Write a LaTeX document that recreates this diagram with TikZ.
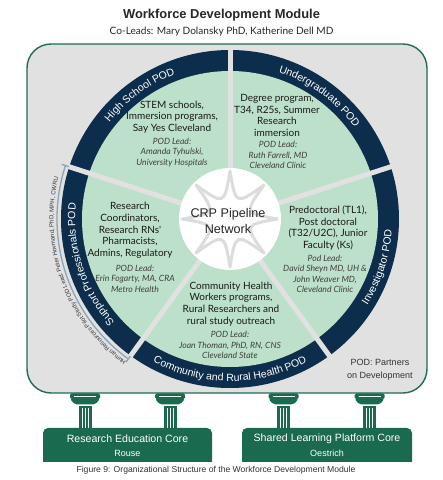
\documentclass[tikz,border=0pt]{standalone}
\usepackage{fontspec}
\setmainfont{Liberation Sans}
\newfontfamily\lato{Lato}
\usepackage{tikz}
\usetikzlibrary{decorations.text}

\definecolor{boxGray}{HTML}{E1E1E1}
\definecolor{boxLine}{HTML}{1E6E52}
\definecolor{ringNavy}{HTML}{0C2E4C}
\definecolor{podGreen}{HTML}{BCE0C9}
\definecolor{coreGreen}{HTML}{1A6A4F}
\definecolor{hrBlue}{HTML}{8AA5B9}
\definecolor{webGray}{HTML}{DCDCDC}
\definecolor{inkGray}{HTML}{333333}

\newcommand{\ringfont}{\fontsize{10.5}{12}\selectfont}
\newcommand{\hrfont}{\fontsize{6}{7}\selectfont}

\begin{document}
\begin{tikzpicture}[x=1pt, y=1pt,
		podText/.style={align=center, inner sep=0pt, text=black!90, font=\lato\fontsize{10}{11.7}\selectfont},
		leadText/.style={align=center, inner sep=0pt, text=black!75, font=\lato\itshape\fontsize{8.6}{10.5}\selectfont},
		divider/.style={draw=boxGray, line width=5pt},
		web/.style={draw=webGray, line width=3pt, line join=round},
		ringLabel/.style={decorate, decoration={text along path, text align=center, text color=white, text={|\ringfont|#1}}},
		coreTitle/.style={inner sep=0pt, text=white, font=\fontsize{10.6}{12}\selectfont},
		coreLead/.style={inner sep=0pt, text=white, font=\fontsize{9}{10}\selectfont},
		pillar/.pic={
			\fill[coreGreen, rounded corners=1.5pt] (-15,0) rectangle (15,-5.5);
			\draw[white, line width=0.7pt] (-11,-2.8) -- (11,-2.8);
			\fill[coreGreen, rounded corners=2pt] (-15,-5.5) -- (15,-5.5) -- (10,-11) -- (-10,-11) -- cycle;
			\fill[coreGreen] (-6.5,-13) rectangle (6.5,-36);
			\draw[white, line width=0.7pt] (-3,-15) -- (-3,-35) (0,-15) -- (0,-35) (3,-15) -- (3,-35);
		}]
		\useasboundingbox[fill=white] (0,0) rectangle (443,480);

		% title
		\node[inner sep=0pt, text=black!85, font=\bfseries\fontsize{12.9}{15}\selectfont] (title) at (221.5,465) {Workforce Development Module};
		\node[inner sep=0pt, text=black!85, font=\lato\fontsize{10.1}{12}\selectfont] (coLeads) at (221.5,448) {Co-Leads: Mary Dolansky PhD, Katherine Dell MD};

		% module frame
		\node[rectangle, draw=boxLine, fill=boxGray, line width=1.4pt, rounded corners=24pt, minimum width=400pt, minimum height=349pt, inner sep=0pt] (podFrame) at (227,261.5) {};

		\coordinate (hub) at (230,261);
		\begin{scope}[shift={(hub)}]
			% draw ring and pods
			\fill[ringNavy] (0,0) circle[radius=169];
			\fill[podGreen] (0,0) circle[radius=148];
			\draw[divider] (0,0) -- (90:173);
			\draw[divider] (0,0) -- (18:173);
			\draw[divider] (0,0) -- (-54:173);
			\draw[divider] (0,0) -- (-126:173);
			\draw[divider] (0,0) -- (162:173);

			% draw network hub
			\fill[white] (0,0) circle[radius=51];
			\draw[web] (0:48) .. controls (22.5:15) .. (45:48) .. controls (67.5:15) .. (90:48) .. controls (112.5:15) .. (135:48) .. controls (157.5:15) .. (180:48) .. controls (202.5:15) .. (225:48) .. controls (247.5:15) .. (270:48) .. controls (292.5:15) .. (315:48) .. controls (337.5:15) .. (360:48);

			% ring labels
			\path[ringLabel={High School POD}] (162:154.75) arc[start angle=162, end angle=90, radius=154.75];
			\path[ringLabel={Undergraduate POD}] (90:154.75) arc[start angle=90, end angle=18, radius=154.75];
			\path[ringLabel={Investigator POD}] (-54:162.25) arc[start angle=-54, end angle=18, radius=162.25];
			\path[ringLabel={Community and Rural Health POD}] (-126:162.25) arc[start angle=-126, end angle=-54, radius=162.25];
			\path[ringLabel={Support Professionals POD}] (234:154.75) arc[start angle=234, end angle=162, radius=154.75];

			% human resources bracket
			\draw[hrBlue, line width=1.3pt] (162:169.5) -- (162:177) (162:173) arc[start angle=162, end angle=234, radius=173] (234:169.5) -- (234:177);
			\path[decorate, decoration={text along path, text align=left, text color=inkGray, text={|\hrfont|Human Resources Pilot Study POD Lead: Peter Hovmand, PhD, MPH, CWRU}}] (234:176.5) arc[start angle=234, end angle=150, radius=176.5];
		\end{scope}

		\node[inner sep=0pt, align=center, text=black!85, font=\fontsize{12.6}{16}\selectfont] (hubLabel) at (228,259) {CRP Pipeline\\Network};

		% pod texts
		\node[podText] (hsText) at (172,363) {STEM schools,\\Immersion programs,\\Say Yes Cleveland};
		\node[leadText] (hsLead) at (172,327.5) {POD Lead:\\Amanda Tyhulski,\\University Hospitals};
		\node[podText] (ugText) at (277,364.5) {Degree program,\\T34, R25s, Summer\\Research\\immersion};
		\node[leadText] (ugLead) at (278,325) {POD Lead:\\Ruth Farrell, MD\\Cleveland Clinic};
		\node[podText] (spText) at (130,249.5) {Research\\Coordinators,\\Research RNs'\\Pharmacists,\\Admins, Regulatory};
		\node[leadText] (spLead) at (135,201.5) {POD Lead:\\Erin Fogarty, MA, CRA\\Metro Health};
		\node[podText] (ivText) at (328,252) {Predoctoral (TL1),\\Post doctoral\\(T32/U2C), Junior\\Faculty (Ks)};
		\node[leadText] (ivLead) at (325,206) {Pod Lead:\\David Sheyn MD, UH \&\\John Weaver MD,\\Cleveland Clinic};
		\node[podText] (crText) at (231,176) {Community Health\\Workers programs,\\Rural Researchers and\\rural study outreach};
		\node[leadText] (crLead) at (230,135) {POD Lead:\\Joan Thoman, PhD, RN, CNS\\Cleveland State};

		\node[inner sep=0pt, align=center, text=inkGray, font=\fontsize{9}{13}\selectfont] (podNote) at (380,110.5) {POD: Partners\\on Development};

		% draw pillars
		\pic (pillarA) at (85,86.5) {pillar};
		\pic (pillarB) at (170,86.5) {pillar};
		\pic (pillarC) at (283.5,86.5) {pillar};
		\pic (pillarD) at (369.5,86.5) {pillar};

		% draw cores
		\fill[coreGreen] (43,18) [rounded corners=5pt] -- (43,52) -- (212,52) [sharp corners] -- (212,18) -- cycle;
		\fill[coreGreen] (242,18) [rounded corners=5pt] -- (242,52) -- (412,52) [sharp corners] -- (412,18) -- cycle;
		\node[coreTitle] (recTitle) at (127.5,41) {Research Education Core};
		\node[coreLead] (recLead) at (127.5,27) {Rouse};
		\node[coreTitle] (slpTitle) at (327,41) {Shared Learning Platform Core};
		\node[coreLead] (slpLead) at (327,27) {Oestrich};

		% caption
		\node[inner sep=0pt, text=inkGray, font=\fontsize{8.6}{10}\selectfont] (caption) at (216,10) {Figure 9: Organizational Structure of the Workforce Development Module};
	\end{tikzpicture}
\end{document}
